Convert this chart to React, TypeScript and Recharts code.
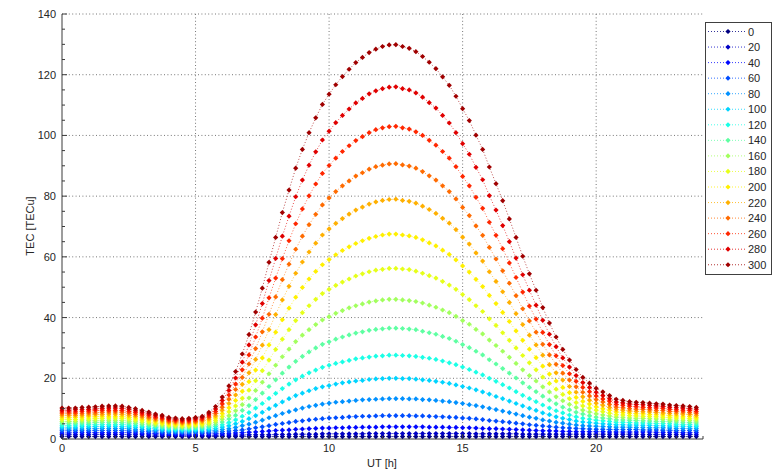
import { CartesianGrid, Line, LineChart, XAxis, YAxis } from "recharts";

// universal time, quarter-hour steps
const hours = [
  0, 0.25, 0.5, 0.75, 1, 1.25, 1.5, 1.75, 2, 2.25, 2.5, 2.75, 3, 3.25, 3.5, 3.75, 4, 4.25, 4.5, 4.75,
  5, 5.25, 5.5, 5.75, 6, 6.25, 6.5, 6.75, 7, 7.25, 7.5, 7.75, 8, 8.25, 8.5, 8.75, 9, 9.25, 9.5, 9.75,
  10, 10.25, 10.5, 10.75, 11, 11.25, 11.5, 11.75, 12, 12.25, 12.5, 12.75, 13, 13.25, 13.5, 13.75, 14, 14.25, 14.5, 14.75,
  15, 15.25, 15.5, 15.75, 16, 16.25, 16.5, 16.75, 17, 17.25, 17.5, 17.75, 18, 18.25, 18.5, 18.75, 19, 19.25, 19.5, 19.75,
  20, 20.25, 20.5, 20.75, 21, 21.25, 21.5, 21.75, 22, 22.25, 22.5, 22.75, 23, 23.25, 23.5, 23.75,
];

// TEC [TECu] for each solar activity level
const tec0 = [
  0.8, 0.8, 0.8, 0.8, 0.8, 0.8, 0.8, 0.8, 0.8, 0.8, 0.8, 0.8, 0.8, 0.8, 0.8, 0.8, 0.8, 0.8, 0.8, 0.8,
  0.8, 0.8, 0.8, 0.8, 0.8, 0.8, 0.8, 0.8, 0.8, 0.8, 0.8, 0.8, 0.8, 0.8, 0.8, 0.8, 0.8, 0.8, 0.8, 0.8,
  0.8, 0.8, 0.8, 0.8, 0.8, 0.8, 0.8, 0.8, 0.8, 0.8, 0.8, 0.8, 0.8, 0.8, 0.8, 0.8, 0.8, 0.8, 0.8, 0.8,
  0.8, 0.8, 0.8, 0.8, 0.8, 0.8, 0.8, 0.8, 0.8, 0.8, 0.8, 0.8, 0.8, 0.8, 0.8, 0.8, 0.8, 0.8, 0.8, 0.8,
  0.8, 0.8, 0.8, 0.8, 0.8, 0.8, 0.8, 0.8, 0.8, 0.8, 0.8, 0.8, 0.8, 0.8, 0.8, 0.8,
];
const tec20 = [
  1.4, 1.4, 1.4, 1.4, 1.4, 1.5, 1.5, 1.5, 1.5, 1.5, 1.4, 1.4, 1.4, 1.3, 1.3, 1.3, 1.2, 1.2, 1.2, 1.2, 1.2,
  1.2, 1.2, 1.2, 1.3, 1.3, 1.3, 1.3, 1.4, 1.4, 1.4, 1.4, 1.5, 1.5, 1.5, 1.6, 1.6, 1.6, 1.6, 1.7, 1.7,
  1.7, 1.7, 1.7, 1.7, 1.7, 1.8, 1.8, 1.8, 1.8, 1.8, 1.8, 1.8, 1.8, 1.8, 1.8, 1.8, 1.8, 1.8, 1.8, 1.8,
  1.8, 1.7, 1.7, 1.7, 1.7, 1.7, 1.7, 1.7, 1.6, 1.6, 1.6, 1.6, 1.6, 1.6, 1.6, 1.6, 1.6, 1.6, 1.6, 1.6,
  1.6, 1.6, 1.6, 1.6, 1.6, 1.6, 1.5, 1.5, 1.5, 1.5, 1.5, 1.5, 1.5, 1.5, 1.4,
];
const tec40 = [
  2.0, 2.0, 2.1, 2.1, 2.1, 2.1, 2.1, 2.1, 2.1, 2.1, 2.1, 2.0, 1.9, 1.9, 1.8, 1.7, 1.6, 1.6, 1.6, 1.6, 1.6,
  1.7, 1.7, 1.7, 1.8, 1.9, 2.0, 2.1, 2.2, 2.3, 2.5, 2.6, 2.8, 2.9, 3.0, 3.2, 3.3, 3.4, 3.5, 3.6, 3.6,
  3.7, 3.7, 3.8, 3.8, 3.9, 3.9, 3.9, 4.0, 4.0, 4.0, 4.0, 4.0, 4.0, 4.0, 3.9, 3.9, 3.9, 3.8, 3.8, 3.7,
  3.7, 3.6, 3.5, 3.4, 3.4, 3.3, 3.2, 3.1, 3.0, 2.9, 2.8, 2.7, 2.7, 2.6, 2.5, 2.5, 2.4, 2.4, 2.4, 2.4,
  2.4, 2.3, 2.3, 2.3, 2.3, 2.3, 2.3, 2.3, 2.2, 2.2, 2.2, 2.2, 2.1, 2.1, 2.1,
];
const tec60 = [
  2.7, 2.7, 2.7, 2.7, 2.7, 2.8, 2.8, 2.8, 2.8, 2.8, 2.7, 2.6, 2.5, 2.4, 2.3, 2.2, 2.1, 2.0, 2.0, 2.0, 2.1,
  2.1, 2.2, 2.3, 2.4, 2.6, 2.8, 3.0, 3.3, 3.7, 4.0, 4.4, 4.8, 5.1, 5.4, 5.8, 6.0, 6.3, 6.5, 6.7, 6.9,
  7.0, 7.1, 7.3, 7.4, 7.5, 7.5, 7.6, 7.7, 7.7, 7.7, 7.7, 7.7, 7.6, 7.6, 7.5, 7.4, 7.3, 7.2, 7.1, 6.9,
  6.8, 6.6, 6.4, 6.1, 5.9, 5.7, 5.5, 5.2, 5.0, 4.7, 4.5, 4.3, 4.1, 3.9, 3.7, 3.6, 3.5, 3.4, 3.3, 3.2,
  3.2, 3.1, 3.1, 3.1, 3.1, 3.1, 3.0, 3.0, 3.0, 2.9, 2.9, 2.8, 2.8, 2.8, 2.7,
];
const tec80 = [
  3.3, 3.3, 3.3, 3.3, 3.4, 3.4, 3.5, 3.5, 3.5, 3.5, 3.4, 3.2, 3.1, 2.9, 2.8, 2.7, 2.5, 2.4, 2.4, 2.4, 2.5,
  2.5, 2.7, 2.8, 3.1, 3.4, 3.8, 4.4, 4.9, 5.5, 6.2, 7.0, 7.7, 8.4, 9.0, 9.6, 10.2, 10.7, 11.1, 11.5, 11.8,
  12.1, 12.3, 12.5, 12.7, 12.9, 13.0, 13.1, 13.2, 13.3, 13.3, 13.3, 13.2, 13.2, 13.0, 12.9, 12.7, 12.5, 12.3, 12.0, 11.7,
  11.3, 11.0, 10.6, 10.1, 9.7, 9.2, 8.7, 8.2, 7.7, 7.2, 6.8, 6.3, 5.9, 5.5, 5.2, 4.9, 4.6, 4.4, 4.3, 4.2,
  4.1, 4.0, 3.9, 3.9, 3.9, 3.8, 3.8, 3.7, 3.7, 3.7, 3.6, 3.5, 3.5, 3.4, 3.4,
];
const tec100 = [
  3.9, 3.9, 3.9, 4.0, 4.0, 4.1, 4.1, 4.2, 4.2, 4.1, 4.0, 3.9, 3.7, 3.5, 3.3, 3.1, 2.9, 2.8, 2.8, 2.8, 2.9,
  3.0, 3.2, 3.4, 3.9, 4.4, 5.0, 5.8, 6.7, 7.7, 8.8, 10.0, 11.1, 12.2, 13.3, 14.3, 15.1, 15.9, 16.6, 17.2, 17.6,
  18.1, 18.5, 18.8, 19.1, 19.3, 19.6, 19.8, 19.9, 20.0, 20.0, 19.9, 19.9, 19.7, 19.5, 19.3, 19.0, 18.7, 18.3, 17.8, 17.3,
  16.8, 16.2, 15.5, 14.8, 14.0, 13.3, 12.5, 11.7, 10.9, 10.1, 9.4, 8.6, 8.0, 7.3, 6.8, 6.4, 5.9, 5.6, 5.4, 5.2,
  5.0, 4.9, 4.7, 4.7, 4.6, 4.6, 4.5, 4.5, 4.4, 4.4, 4.3, 4.2, 4.2, 4.1, 4.0,
];
const tec120 = [
  4.5, 4.5, 4.6, 4.6, 4.7, 4.7, 4.8, 4.8, 4.8, 4.8, 4.6, 4.5, 4.2, 4.0, 3.8, 3.6, 3.3, 3.2, 3.2, 3.2, 3.3,
  3.4, 3.7, 4.1, 4.7, 5.4, 6.3, 7.5, 8.7, 10.2, 11.7, 13.4, 15.0, 16.6, 18.1, 19.5, 20.7, 21.8, 22.7, 23.6, 24.3,
  24.9, 25.4, 25.9, 26.4, 26.7, 27.0, 27.3, 27.4, 27.6, 27.6, 27.5, 27.4, 27.2, 26.9, 26.6, 26.2, 25.7, 25.1, 24.5, 23.7,
  22.9, 22.0, 21.1, 20.0, 19.0, 17.9, 16.8, 15.6, 14.4, 13.3, 12.3, 11.2, 10.2, 9.3, 8.6, 7.9, 7.3, 6.8, 6.5, 6.2,
  6.0, 5.8, 5.5, 5.5, 5.4, 5.3, 5.3, 5.2, 5.1, 5.1, 5.0, 4.9, 4.8, 4.8, 4.6,
];
const tec140 = [
  5.2, 5.2, 5.2, 5.3, 5.3, 5.4, 5.5, 5.5, 5.5, 5.4, 5.3, 5.1, 4.8, 4.6, 4.3, 4.0, 3.7, 3.6, 3.6, 3.6, 3.7,
  3.9, 4.2, 4.7, 5.6, 6.6, 7.8, 9.4, 11.0, 13.0, 15.1, 17.3, 19.5, 21.7, 23.7, 25.6, 27.2, 28.7, 30.0, 31.2, 32.0,
  32.9, 33.6, 34.3, 34.9, 35.3, 35.8, 36.1, 36.3, 36.5, 36.5, 36.4, 36.2, 36.0, 35.5, 35.0, 34.5, 33.8, 33.1, 32.2, 31.1,
  30.1, 28.9, 27.7, 26.1, 24.7, 23.2, 21.7, 20.1, 18.5, 17.0, 15.6, 14.1, 12.8, 11.6, 10.5, 9.6, 8.8, 8.2, 7.7, 7.2,
  6.9, 6.7, 6.3, 6.3, 6.2, 6.1, 6.0, 5.9, 5.8, 5.8, 5.7, 5.6, 5.5, 5.4, 5.3,
];
const tec160 = [
  5.8, 5.8, 5.8, 5.9, 6.0, 6.0, 6.1, 6.2, 6.2, 6.1, 5.9, 5.7, 5.4, 5.1, 4.7, 4.5, 4.2, 4.0, 3.9, 4.0, 4.2,
  4.3, 4.8, 5.4, 6.5, 7.7, 9.3, 11.3, 13.5, 16.0, 18.7, 21.5, 24.3, 27.1, 29.6, 32.1, 34.2, 36.0, 37.7, 39.2, 40.3,
  41.4, 42.3, 43.2, 43.9, 44.5, 45.1, 45.5, 45.8, 46.0, 46.0, 45.8, 45.6, 45.3, 44.8, 44.1, 43.4, 42.5, 41.6, 40.4, 39.0,
  37.8, 36.1, 34.6, 32.6, 30.8, 28.9, 26.9, 24.9, 22.8, 20.9, 19.1, 17.2, 15.5, 13.9, 12.6, 11.4, 10.4, 9.5, 8.9, 8.3,
  7.9, 7.6, 7.2, 7.1, 6.9, 6.8, 6.8, 6.7, 6.6, 6.5, 6.3, 6.2, 6.2, 6.1, 5.9,
];
const tec180 = [
  6.4, 6.4, 6.4, 6.5, 6.6, 6.7, 6.8, 6.9, 6.9, 6.8, 6.6, 6.3, 6.0, 5.6, 5.2, 5.0, 4.6, 4.5, 4.3, 4.4, 4.6,
  4.8, 5.3, 6.1, 7.4, 9.0, 10.9, 13.4, 16.1, 19.2, 22.5, 26.0, 29.5, 32.9, 36.0, 39.0, 41.6, 43.9, 46.0, 47.9, 49.3,
  50.6, 51.7, 52.7, 53.7, 54.4, 55.1, 55.6, 55.9, 56.2, 56.2, 56.0, 55.8, 55.3, 54.6, 53.8, 53.0, 51.9, 50.7, 49.3, 47.6,
  45.9, 43.9, 42.0, 39.6, 37.4, 35.0, 32.5, 30.0, 27.5, 25.1, 22.8, 20.4, 18.3, 16.4, 14.7, 13.3, 12.0, 10.9, 10.2, 9.5,
  9.0, 8.5, 8.0, 7.9, 7.7, 7.6, 7.5, 7.4, 7.3, 7.2, 7.0, 6.9, 6.9, 6.7, 6.6,
];
const tec200 = [
  7.0, 7.0, 7.1, 7.2, 7.3, 7.3, 7.5, 7.5, 7.5, 7.4, 7.2, 6.9, 6.5, 6.2, 5.7, 5.4, 5.0, 4.9, 4.7, 4.8, 5.0,
  5.2, 5.9, 6.9, 8.4, 10.3, 12.7, 15.7, 18.9, 22.7, 26.7, 31.0, 35.2, 39.3, 43.1, 46.7, 49.9, 52.7, 55.2, 57.4, 59.1,
  60.7, 62.1, 63.3, 64.4, 65.3, 66.1, 66.7, 67.2, 67.5, 67.5, 67.2, 66.9, 66.4, 65.6, 64.6, 63.6, 62.2, 60.8, 59.0, 57.0,
  55.0, 52.6, 50.2, 47.3, 44.6, 41.7, 38.7, 35.6, 32.5, 29.6, 26.8, 24.0, 21.4, 19.1, 17.0, 15.3, 13.7, 12.4, 11.5, 10.6,
  10.0, 9.5, 8.9, 8.7, 8.5, 8.3, 8.3, 8.1, 8.0, 7.9, 7.7, 7.6, 7.5, 7.4, 7.2,
];
const tec220 = [
  7.7, 7.7, 7.7, 7.8, 7.9, 8.0, 8.1, 8.2, 8.2, 8.1, 7.8, 7.5, 7.1, 6.7, 6.2, 5.9, 5.4, 5.3, 5.1, 5.2, 5.4,
  5.7, 6.5, 7.6, 9.5, 11.7, 14.5, 18.0, 21.8, 26.2, 30.9, 36.0, 41.0, 45.8, 50.3, 54.6, 58.3, 61.6, 64.5, 67.2, 69.2,
  71.0, 72.6, 74.1, 75.4, 76.4, 77.4, 78.1, 78.6, 78.9, 79.0, 78.6, 78.3, 77.7, 76.7, 75.6, 74.3, 72.7, 71.1, 69.0, 66.5,
  64.2, 61.3, 58.6, 55.1, 51.9, 48.5, 45.0, 41.3, 37.7, 34.2, 31.0, 27.6, 24.5, 21.8, 19.4, 17.3, 15.4, 13.9, 12.8, 11.8,
  11.1, 10.4, 9.7, 9.5, 9.2, 9.1, 9.0, 8.9, 8.7, 8.6, 8.4, 8.3, 8.2, 8.1, 7.8,
];
const tec240 = [
  8.3, 8.3, 8.3, 8.4, 8.6, 8.6, 8.8, 8.9, 8.9, 8.8, 8.5, 8.1, 7.7, 7.2, 6.7, 6.4, 5.8, 5.7, 5.5, 5.6, 5.8,
  6.2, 7.1, 8.4, 10.5, 13.1, 16.3, 20.3, 24.7, 29.8, 35.3, 41.1, 46.8, 52.5, 57.6, 62.5, 66.8, 70.6, 74.0, 77.1, 79.4,
  81.5, 83.4, 85.0, 86.6, 87.7, 88.9, 89.7, 90.2, 90.6, 90.7, 90.3, 89.9, 89.2, 88.1, 86.7, 85.3, 83.4, 81.5, 79.1, 76.3,
  73.6, 70.2, 67.1, 63.1, 59.3, 55.4, 51.3, 47.2, 42.9, 38.9, 35.2, 31.2, 27.7, 24.6, 21.7, 19.4, 17.2, 15.4, 14.2, 13.0,
  12.2, 11.4, 10.5, 10.3, 10.0, 9.8, 9.8, 9.6, 9.4, 9.4, 9.1, 9.0, 8.9, 8.7, 8.5,
];
const tec260 = [
  8.9, 8.9, 8.9, 9.1, 9.2, 9.3, 9.5, 9.5, 9.5, 9.4, 9.1, 8.7, 8.2, 7.8, 7.2, 6.8, 6.3, 6.1, 5.9, 6.0, 6.3,
  6.6, 7.6, 9.1, 11.6, 14.5, 18.1, 22.8, 27.7, 33.6, 39.8, 46.5, 53.0, 59.4, 65.3, 70.9, 75.8, 80.1, 84.0, 87.5, 90.1,
  92.5, 94.7, 96.6, 98.3, 99.6, 100.9, 101.9, 102.5, 102.9, 103.0, 102.5, 102.1, 101.2, 100.0, 98.4, 96.8, 94.7, 92.5, 89.7, 86.5,
  83.4, 79.6, 76.0, 71.4, 67.1, 62.7, 58.0, 53.2, 48.4, 43.8, 39.5, 35.1, 31.1, 27.4, 24.2, 21.5, 19.0, 17.0, 15.6, 14.2,
  13.2, 12.4, 11.4, 11.1, 10.8, 10.6, 10.5, 10.3, 10.2, 10.1, 9.8, 9.6, 9.5, 9.4, 9.1,
];
const tec280 = [
  9.5, 9.5, 9.6, 9.7, 9.8, 9.9, 10.1, 10.2, 10.2, 10.1, 9.8, 9.3, 8.8, 8.3, 7.7, 7.3, 6.7, 6.5, 6.3, 6.4, 6.7,
  7.1, 8.2, 9.9, 12.7, 16.0, 20.1, 25.3, 31.0, 37.6, 44.6, 52.2, 59.5, 66.8, 73.4, 79.8, 85.3, 90.2, 94.6, 98.5, 101.4,
  104.2, 106.6, 108.7, 110.7, 112.2, 113.7, 114.7, 115.4, 115.9, 116.0, 115.4, 115.0, 114.0, 112.6, 110.8, 109.0, 106.6, 104.1, 100.9, 97.3,
  93.8, 89.5, 85.4, 80.2, 75.4, 70.3, 65.0, 59.6, 54.1, 49.0, 44.1, 39.1, 34.5, 30.4, 26.7, 23.7, 20.9, 18.6, 17.0, 15.4,
  14.3, 13.3, 12.2, 11.9, 11.5, 11.4, 11.3, 11.1, 10.9, 10.8, 10.5, 10.3, 10.2, 10.0, 9.8,
];
const tec300 = [
  10.2, 10.2, 10.2, 10.4, 10.5, 10.6, 10.8, 10.9, 10.9, 10.8, 10.4, 10.0, 9.4, 8.9, 8.2, 7.8, 7.1, 6.9, 6.7, 6.8, 7.1,
  7.5, 8.8, 10.7, 13.8, 17.5, 22.2, 28.0, 34.4, 41.8, 49.7, 58.2, 66.4, 74.6, 82.0, 89.2, 95.4, 100.9, 105.8, 110.2, 113.6,
  116.7, 119.4, 121.8, 124.0, 125.7, 127.3, 128.4, 129.3, 129.8, 129.9, 129.3, 128.7, 127.6, 126.0, 124.1, 122.0, 119.3, 116.5, 112.9, 108.8,
  104.9, 100.1, 95.4, 89.6, 84.1, 78.5, 72.5, 66.4, 60.2, 54.4, 49.0, 43.3, 38.2, 33.6, 29.5, 26.0, 22.9, 20.3, 18.4, 16.7,
  15.5, 14.3, 13.1, 12.7, 12.3, 12.1, 12.0, 11.8, 11.6, 11.5, 11.2, 11.0, 10.9, 10.7, 10.4,
];

const levels = [0, 20, 40, 60, 80, 100, 120, 140, 160, 180, 200, 220, 240, 260, 280, 300];
const levelSeries = [tec0, tec20, tec40, tec60, tec80, tec100, tec120, tec140, tec160, tec180, tec200, tec220, tec240, tec260, tec280, tec300];
// jet-style colormap, one step per level
const levelColors = [
  "#000080", "#0000c4", "#0008ff", "#004dff", "#0091ff", "#00d4ff", "#1affe6", "#5effa2",
  "#a2ff5e", "#e6ff1a", "#fff000", "#ffb000", "#ff6b00", "#ff2700", "#e00000", "#a00000",
];

const xTicks = [0, 1, 2, 3, 4, 5, 6, 7, 8, 9, 10, 11, 12, 13, 14, 15, 16, 17, 18, 19, 20, 21, 22, 23, 24];
const xLabels = [0, 5, 10, 15, 20];
const yTicks = [0, 5, 10, 15, 20, 25, 30, 35, 40, 45, 50, 55, 60, 65, 70, 75, 80, 85, 90, 95, 100, 105, 110, 115, 120, 125, 130, 135, 140];
const yLabels = [0, 20, 40, 60, 80, 100, 120, 140];

const chartData = hours.map((t, i) => {
  const row: Record<string, number> = { t };
  levels.forEach((lvl, j) => {
    row[`s${lvl}`] = levelSeries[j][i];
  });
  return row;
});

const FONT = '"Liberation Sans", Arial, sans-serif';
const AXIS = "#3a3a3a";

const diamondPath = (cx: number, cy: number, r: number) =>
  `M${cx},${cy - r}L${cx + r},${cy}L${cx},${cy + r}L${cx - r},${cy}Z`;

const makeDot = (color: string) => (props: any) => {
  const { cx, cy, index } = props;
  if (cx == null || cy == null) return <g key={`d-${index}`} />;
  return <path key={`d-${index}`} d={diamondPath(cx, cy, 2.6)} fill={color} />;
};

function XTick({ x, y, payload }: any) {
  const major = xLabels.includes(payload.value);
  return (
    <g>
      <line x1={x} x2={x} y1={y} y2={y - (major ? 5 : 3)} stroke={AXIS} />
      {major && (
        <text x={x} y={y + 9} textAnchor="middle" dominantBaseline="central" fontSize={11} fill="#262626" fontFamily={FONT}>
          {payload.value}
        </text>
      )}
    </g>
  );
}

function YTick({ x, y, payload }: any) {
  const major = yLabels.includes(payload.value);
  return (
    <g>
      <line x1={x} x2={x + (major ? 5 : 3)} y1={y} y2={y} stroke={AXIS} />
      {major && (
        <text x={x - 6} y={y} textAnchor="end" dominantBaseline="central" fontSize={11} fill="#262626" fontFamily={FONT}>
          {payload.value}
        </text>
      )}
    </g>
  );
}

const XTitle = () => (
  <text x={382} y={463} textAnchor="middle" dominantBaseline="central" fontSize={11} fill="#262626" fontFamily={FONT}>
    UT [h]
  </text>
);

const YTitle = () => (
  <text
    x={30}
    y={226}
    transform="rotate(-90 30 226)"
    textAnchor="middle"
    dominantBaseline="central"
    fontSize={11}
    fill="#262626"
    fontFamily={FONT}
  >
    TEC [TECu]
  </text>
);

function LevelLegend() {
  const rowGap = 15.55;
  return (
    <svg width={67} height={253} style={{ position: "absolute", left: 705, top: 22 }}>
      <rect x={0.5} y={0.5} width={66} height={252} fill="#fff" stroke="#404040" />
      {levels.map((lvl, i) => {
        const cy = 9.5 + i * rowGap;
        return (
          <g key={lvl}>
            <line x1={3} x2={41} y1={cy} y2={cy} stroke={levelColors[i]} strokeWidth={0.8} strokeDasharray="1 2" />
            <path d={diamondPath(23, cy, 2.6)} fill={levelColors[i]} />
            <text x={43} y={cy} dominantBaseline="central" fontSize={11} fill="#262626" fontFamily={FONT}>
              {lvl}
            </text>
          </g>
        );
      })}
    </svg>
  );
}

export default function App() {
  return (
    <div style={{ position: "absolute", left: 0, top: 0, width: 775, height: 469, background: "#fff" }}>
      <LineChart width={775} height={469} data={chartData} margin={{ top: 14, right: 72, bottom: 0, left: 0 }}>
        <CartesianGrid
          horizontal
          vertical
          horizontalValues={[20, 40, 60, 80, 100, 120, 140]}
          verticalValues={[5, 10, 15, 20]}
          stroke="#777"
          strokeDasharray="1 2.4"
        />
        <XAxis
          type="number"
          dataKey="t"
          domain={[0, 24]}
          ticks={xTicks}
          interval={0}
          height={30}
          tickSize={0}
          tickMargin={0}
          tick={<XTick />}
          axisLine={{ stroke: AXIS }}
          tickLine={false}
          label={<XTitle />}
        />
        <YAxis
          type="number"
          domain={[0, 140]}
          ticks={yTicks}
          interval={0}
          width={62}
          tickSize={0}
          tickMargin={0}
          tick={<YTick />}
          axisLine={{ stroke: AXIS }}
          tickLine={false}
          label={<YTitle />}
        />
        {levels.map((lvl, i) => (
          <Line
            key={lvl}
            type="linear"
            dataKey={`s${lvl}`}
            stroke={levelColors[i]}
            strokeWidth={0.7}
            strokeDasharray="1 2"
            dot={makeDot(levelColors[i])}
            activeDot={false}
            isAnimationActive={false}
          />
        ))}
      </LineChart>
      <LevelLegend />
    </div>
  );
}
